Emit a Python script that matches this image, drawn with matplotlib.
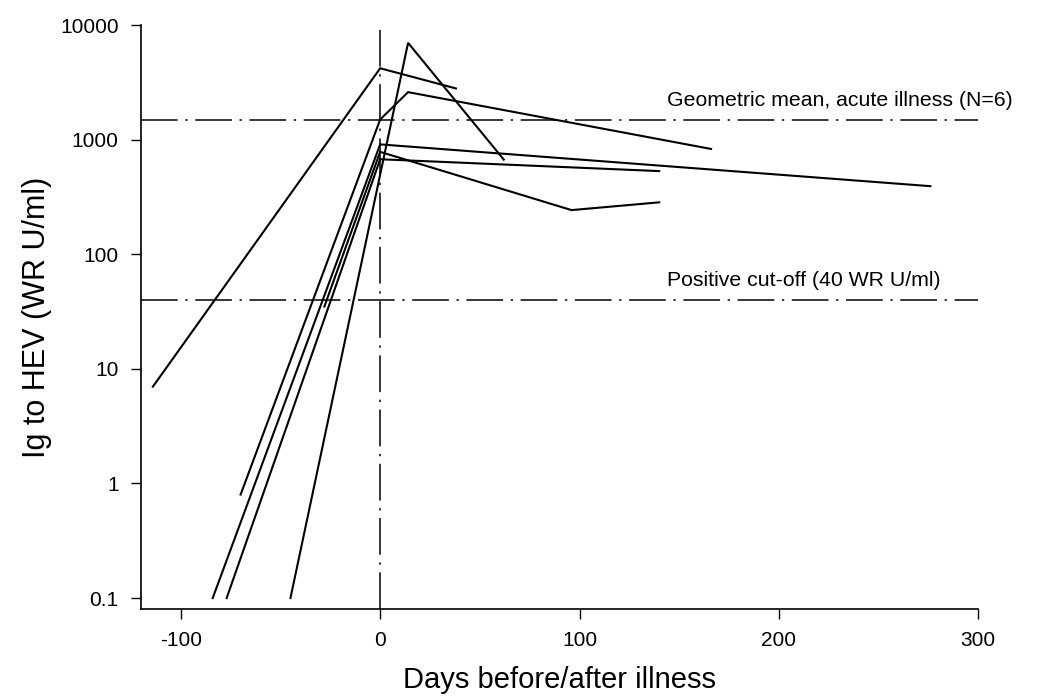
import numpy as np
import matplotlib
matplotlib.use('Agg')
import matplotlib.pyplot as plt

plt.rcParams['font.family'] = ['Liberation Sans', 'DejaVu Sans']

# individual patients: days before/after illness and IgG titre (WR U/ml)
days_1 = [-114, 0, 38]
igg_1 = [7, 4200, 2800]
days_2 = [-45, 14, 62]
igg_2 = [0.1, 7000, 670]
days_3 = [-70, 0, 14, 166]
igg_3 = [0.8, 1500, 2600, 830]
days_4 = [-84, 0, 276]
igg_4 = [0.1, 910, 393]
days_5 = [-77, 0, 140]
igg_5 = [0.1, 675, 532]
days_6 = [-28, 0, 96, 140]
igg_6 = [35, 783, 243, 284]

geo_mean = 1500
cutoff = 40

xticks = [-100, 0, 100, 200, 300]
yticks = [0.1, 1, 10, 100, 1000, 10000]
ytick_labels = ['0.1', '1', '10', '100', '1000', '10000']

fig = plt.figure(figsize=(10.44, 6.97), dpi=100)
ax = fig.add_axes([0.135, 0.126, 0.802, 0.838])

all_days = [days_1, days_2, days_3, days_4, days_5, days_6]
all_igg = [igg_1, igg_2, igg_3, igg_4, igg_5, igg_6]
for d, v in zip(all_days, all_igg):
	ax.plot(d, v, color='black', lw=1.5, solid_joinstyle='miter')

dashdot = (0, (24, 5, 1.5, 5))
ax.axhline(geo_mean, color='black', lw=1.1, linestyle=dashdot)
ax.axhline(cutoff, color='black', lw=1.1, linestyle=dashdot)
ax.axvline(0, color='black', lw=1.1, linestyle=dashdot)

ax.text(144, geo_mean * 1.22, 'Geometric mean, acute illness (N=6)', fontsize=15.3,
		ha='left', va='bottom', clip_on=False)
ax.text(144, cutoff * 1.22, 'Positive cut-off (40 WR U/ml)', fontsize=15.3,
		ha='left', va='bottom', clip_on=False)

ax.set_yscale('log')
ax.set_xlim(-120, 300)
ax.set_ylim(0.08, 10000)
ax.set_xticks(xticks)
ax.set_xticklabels([str(t) for t in xticks])
ax.set_yticks(yticks)
ax.set_yticklabels(ytick_labels)
ax.minorticks_off()
ax.tick_params(axis='both', direction='out', length=7, width=1, labelsize=15, pad=9)

ax.spines['top'].set_visible(False)
ax.spines['right'].set_visible(False)
ax.spines['left'].set_bounds(0.08, 10000)
ax.spines['left'].set_linewidth(1.2)
ax.spines['bottom'].set_linewidth(1.2)

ax.set_xlabel('Days before/after illness', fontsize=21, labelpad=11)
ax.set_ylabel('Ig to HEV (WR U/ml)', fontsize=22, labelpad=6)

plt.savefig('out.png', dpi=100)
